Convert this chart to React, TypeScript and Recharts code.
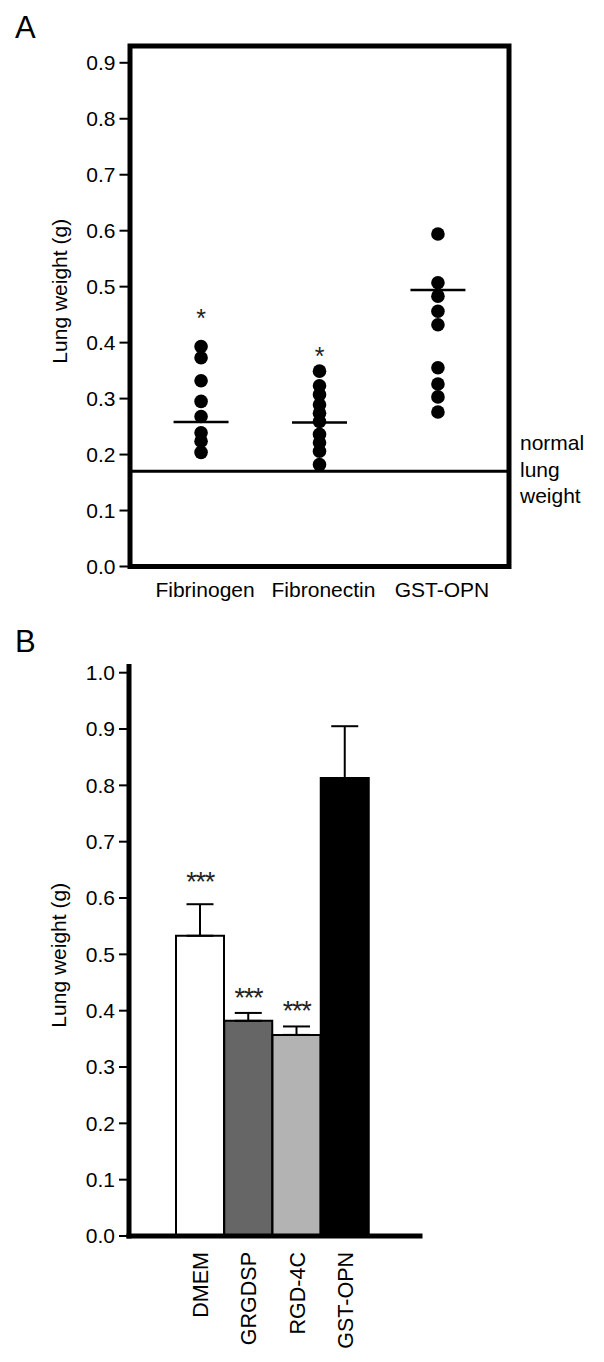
import React from 'react';
import {
  ScatterChart,
  Scatter,
  XAxis,
  YAxis,
  ReferenceLine,
  ReferenceArea,
  ComposedChart,
  Bar,
  Cell,
  ErrorBar,
  Line,
} from 'recharts';

// ---------- Panel A data ----------
const groupsA = ['Fibrinogen', 'Fibronectin', 'GST-OPN'];
const fibrinogenA = [0.393, 0.373, 0.332, 0.295, 0.268, 0.239, 0.224, 0.204];
const fibronectinA = [0.349, 0.323, 0.307, 0.289, 0.274, 0.259, 0.236, 0.221, 0.206, 0.182];
const gstOpnA = [0.594, 0.507, 0.483, 0.456, 0.432, 0.355, 0.326, 0.303, 0.276];
const centerLineA = [0.258, 0.2575, 0.494];
const sigMarkA = ['*', '*', ''];
const sigLevelA: (number | null)[] = [0.452, 0.384, null];
const normalLungWeight = 0.17;
const ticksA = [0, 0.1, 0.2, 0.3, 0.4, 0.5, 0.6, 0.7, 0.8, 0.9];
const yMaxA = 0.93;

// ---------- Panel B data ----------
const groupsB = ['DMEM', 'GRGDSP', 'RGD-4C', 'GST-OPN'];
const meansB = [0.533, 0.382, 0.357, 0.813];
const semB = [0.056, 0.014, 0.015, 0.092];
const sigMarkB = ['***', '***', '***', ''];
const sigLevelB: (number | null)[] = [0.638, 0.432, 0.41, null];
const ticksB = [0, 0.1, 0.2, 0.3, 0.4, 0.5, 0.6, 0.7, 0.8, 0.9, 1.0];
const yMaxB = 1.011;

// styles
const fillsB = ['#ffffff', '#666666', '#b3b3b3', '#000000'];
const FONT = '"Liberation Sans", Arial, Helvetica, sans-serif';

const series = [fibrinogenA, fibronectinA, gstOpnA];
const dotsA = series.flatMap((vals, i) => vals.map((v) => ({ x: i + 1, y: v })));
const linesA = centerLineA.map((v, i) => ({ x: i + 1, y: v }));
const sigA = sigLevelA
  .map((v, i) => ({ x: i + 1, y: v, mark: sigMarkA[i] }))
  .filter((d) => d.y !== null);

const rowsB = groupsB.map((name, i) => ({
  name,
  mean: meansB[i],
  err: [0, semB[i]],
  sigY: sigLevelB[i],
  mark: sigMarkB[i],
}));

const YTitle = (props: any) => {
  const vb = props.viewBox || { x: 0, y: 0, width: 0, height: 0 };
  const cx = vb.x + vb.width - 63;
  const cy = vb.y + vb.height / 2 + (props.shift || 0);
  return (
    <text
      x={cx}
      y={cy}
      transform={`rotate(-90, ${cx}, ${cy})`}
      textAnchor="middle"
      fontSize={21}
      fill="#000"
    >
      Lung weight (g)
    </text>
  );
};

const NormalLabel = (props: any) => {
  const vb = props.viewBox || { x: 0, y: 0, width: 0, height: 0 };
  const x = vb.x + vb.width + 11;
  const y = vb.y;
  return (
    <text fontSize={21} fill="#000">
      <tspan x={x} y={y - 21.5}>normal</tspan>
      <tspan x={x} y={y + 5.2}>lung</tspan>
      <tspan x={x} y={y + 31.8}>weight</tspan>
    </text>
  );
};

const TickA = (p: any) => (
  <text x={p.x + 4} y={p.y} dy="0.71em" textAnchor="middle" fontSize={21} fill="#000">
    {groupsA[p.payload.value - 1]}
  </text>
);

const RotTick = (p: any) => {
  const ax = p.x + 8;
  const ay = p.y;
  return (
    <text
      x={ax}
      y={ay}
      transform={`rotate(-90, ${ax}, ${ay})`}
      textAnchor="end"
      fontSize={21.5}
      fill="#000"
    >
      {p.payload.value}
    </text>
  );
};

const SigDotB = (p: any) => {
  if (p.cy === null || p.cy === undefined || !p.payload || !p.payload.mark) return <g />;
  return (
    <text
      x={p.cx}
      y={p.cy + 0.548 * 27}
      textAnchor="middle"
      fontSize={27}
      letterSpacing={-1.2}
      fill="#222"
    >
      {p.payload.mark}
    </text>
  );
};

const boxLine = { stroke: '#000', strokeWidth: 5, strokeLinecap: 'square' as const };

function PanelA() {
  return (
    <ScatterChart width={604} height={620} margin={{ top: 46, right: 95, bottom: 13.5, left: 70 }}>
      <XAxis
        type="number"
        dataKey="x"
        domain={[0.4, 3.6]}
        ticks={[1, 2, 3]}
        allowDataOverflow
        axisLine={false}
        tickLine={false}
        tickSize={8}
        tickMargin={7.5}
        tick={<TickA />}
        height={40}
      />
      <YAxis
        type="number"
        dataKey="y"
        domain={[0, yMaxA]}
        ticks={ticksA}
        allowDataOverflow
        axisLine={false}
        tickLine={{ stroke: '#000', strokeWidth: 2 }}
        tickSize={10.5}
        tickMargin={4}
        tick={{ fill: '#000', fontSize: 21 }}
        tickFormatter={(v: number) => v.toFixed(1)}
        width={60}
        label={<YTitle shift={-15} />}
      />
      <ReferenceArea
        y1={0}
        y2={yMaxA}
        fill="none"
        fillOpacity={0}
        stroke="#000"
        strokeWidth={5}
        ifOverflow="visible"
      />
      <ReferenceLine
        y={normalLungWeight}
        stroke="#000"
        strokeWidth={3}
        label={<NormalLabel />}
      />
      <Scatter
        data={dotsA}
        isAnimationActive={false}
        shape={(p: any) => <circle cx={p.cx} cy={p.cy} r={6.8} fill="#000" />}
      />
      <Scatter
        data={linesA}
        isAnimationActive={false}
        shape={(p: any) => (
          <line x1={p.cx - 27.5} x2={p.cx + 27.5} y1={p.cy} y2={p.cy} stroke="#000" strokeWidth={2.5} />
        )}
      />
      <Scatter
        data={sigA}
        isAnimationActive={false}
        shape={(p: any) => (
          <text x={p.cx} y={p.cy + 0.548 * 25} textAnchor="middle" fontSize={25} fill="#222">
            {p.payload.mark}
          </text>
        )}
      />
    </ScatterChart>
  );
}

function PanelB() {
  return (
    <ComposedChart
      width={604}
      height={742}
      data={rowsB}
      margin={{ top: 46.5, right: 184, bottom: 16, left: 69 }}
      barCategoryGap={0}
      barGap={0}
    >
      <XAxis
        dataKey="name"
        type="category"
        padding={{ left: 47, right: 51 }}
        axisLine={boxLine}
        tickLine={false}
        tickSize={8}
        tickMargin={8}
        tick={<RotTick />}
        interval={0}
        height={110}
      />
      <XAxis
        xAxisId="top"
        orientation="top"
        dataKey="name"
        type="category"
        padding={{ left: 47, right: 51 }}
        axisLine={boxLine}
        tick={false}
        tickLine={false}
        height={0}
      />
      <YAxis
        type="number"
        domain={[0, yMaxB]}
        ticks={ticksB}
        allowDataOverflow
        axisLine={boxLine}
        tickLine={{ stroke: '#000', strokeWidth: 2 }}
        tickSize={10}
        tickMargin={4}
        tick={{ fill: '#000', fontSize: 21 }}
        tickFormatter={(v: number) => v.toFixed(1)}
        width={60}
        label={<YTitle shift={4} />}
      />
      <YAxis
        yAxisId="right"
        orientation="right"
        type="number"
        domain={[0, yMaxB]}
        allowDataOverflow
        axisLine={boxLine}
        tick={false}
        tickLine={false}
        width={0}
      />
      <Bar dataKey="mean" stroke="#000" strokeWidth={2} isAnimationActive={false}>
        {rowsB.map((r, i) => (
          <Cell key={r.name} fill={fillsB[i]} />
        ))}
        <ErrorBar dataKey="err" width={13.5} stroke="#000" strokeWidth={2} direction="y" isAnimationActive={false} />
      </Bar>
      <Line
        dataKey="sigY"
        stroke="none"
        isAnimationActive={false}
        dot={<SigDotB />}
        activeDot={false}
        legendType="none"
      />
    </ComposedChart>
  );
}

export default function App() {
  return (
    <div
      style={{
        position: 'absolute',
        left: 0,
        top: 0,
        width: 604,
        height: 1362,
        background: '#fff',
        fontFamily: FONT,
        overflow: 'hidden',
      }}
    >
      <div style={{ position: 'absolute', left: 0, top: 0 }}>
        <PanelA />
      </div>
      <div style={{ position: 'absolute', left: 0, top: 620 }}>
        <PanelB />
      </div>
      <svg
        width={604}
        height={1362}
        style={{ position: 'absolute', left: 0, top: 0, pointerEvents: 'none' }}
      >
        <text x={15} y={37.6} fontSize={31} fill="#000" fontFamily={FONT}>A</text>
        <text x={15} y={652} fontSize={31} fill="#000" fontFamily={FONT}>B</text>
      </svg>
    </div>
  );
}
